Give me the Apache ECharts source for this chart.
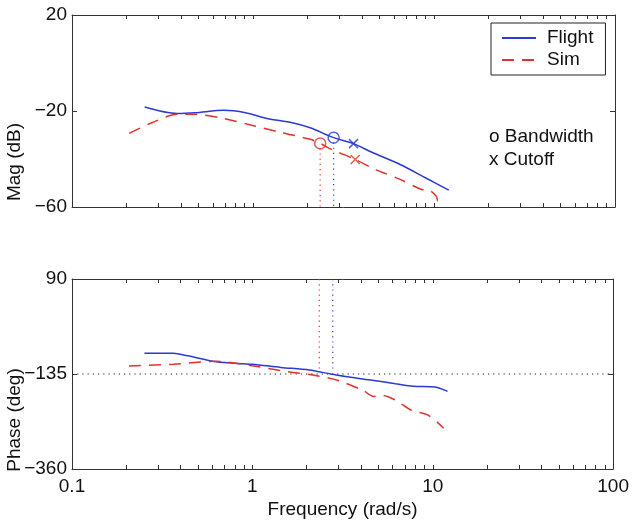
<!DOCTYPE html>
<html>
<head>
<meta charset="utf-8">
<script src="https://cdn.jsdelivr.net/npm/echarts@6/dist/echarts.min.js"></script>
<style>
  html, body { margin: 0; padding: 0; background: #fff; }
  #chart { width: 632px; height: 524px; }
</style>
</head>
<body>
<div id="chart"></div>
<script>
// Frequency response: magnitude (dB) and phase (deg) vs frequency (rad/s)
const freqFlightMag = [0.252, 0.381, 0.479, 0.69, 0.908, 1.195, 1.647, 2.07, 2.79, 3.59, 4.51, 6.5, 8.96, 12.07];
const magFlight     = [-18.3, -21.0, -20.7, -19.7, -20.7, -23.1, -24.9, -27.0, -31.1, -33.6, -37.1, -42.3, -47.8, -53.0];

const freqSimMag = [0.207, 0.276, 0.381, 0.479, 0.659, 0.995, 1.436, 2.07, 2.35, 2.72, 3.67, 4.72, 6.5, 8.56, 9.39, 10.3, 10.5, 10.9];
const magSim     = [-29.3, -24.9, -21.4, -21.4, -22.8, -26.0, -29.0, -31.8, -33.5, -36.0, -40.2, -44.3, -48.5, -52.7, -53.0, -55.5, -57.5, -56.5];

const freqFlightPh = [0.252, 0.364, 0.437, 0.629, 0.995, 1.436, 2.07, 2.72, 3.27, 4.51, 6.21, 7.81, 10.3, 12.07];
const phaseFlight  = [-86, -86, -92, -106, -112, -119.4, -125.7, -135, -141, -149, -158, -164, -166, -176];

const freqSimPh = [0.207, 0.364, 0.629, 0.995, 1.573, 2.27, 2.99, 4.11, 4.72, 5.29, 6.21, 7.63, 9.38, 11.5];
const phaseSim  = [-116, -112, -105, -115.5, -129.5, -139, -150.6, -174, -188, -186, -197, -221, -232, -263.5];

// Bandwidth (o) and cutoff (x) points
const bandwidthFlight = [2.79, -31.1];
const bandwidthSim    = [2.35, -33.5];
const cutoffFlight    = [3.59, -33.6];
const cutoffSim       = [3.67, -40.2];

// Axis ticks
const xTickValues  = [0.1,0.2,0.3,0.4,0.5,0.6,0.7,0.8,0.9,1,2,3,4,5,6,7,8,9,10,20,30,40,50,60,70,80,90,100];
const xLabelValues = [0.1, 1, 10, 100];
const magTicks   = [-60, -20, 20];
const phaseTicks = [-360, -135, 90];
const phaseRef   = -135;

const FONT = '"Liberation Sans", Arial, Helvetica, sans-serif';
const FS = 19;
const BLUE = '#2b3ad4';
const RED  = '#e2322b';
const AXIS = '#333';
const TEXT = '#111';

const zip = (xs, ys) => xs.map((x, i) => [x, ys[i]]);
const fmtNum = v => String(v).replace('-', '\u2212');

function xAxisDef(gridIndex, position, showLabels, name) {
  return {
    type: 'log', logBase: 10, min: 0.1, max: 100, gridIndex, position,
    name: name || '', nameLocation: 'middle', nameGap: 31,
    nameTextStyle: { fontFamily: FONT, fontSize: FS, color: TEXT },
    axisLine: { show: true, onZero: false, lineStyle: { color: AXIS, width: 1 } },
    axisTick: { show: true, inside: true, length: 4, customValues: xTickValues, lineStyle: { color: AXIS } },
    axisLabel: { show: showLabels, customValues: xLabelValues, formatter: v => String(v),
                 fontFamily: FONT, fontSize: FS, color: TEXT, margin: 8 },
    splitLine: { show: false }, minorTick: { show: false }
  };
}
function yAxisDef(gridIndex, position, min, max, ticks, showLabels) {
  return {
    type: 'value', min, max, gridIndex, position,
    axisLine: { show: true, onZero: false, lineStyle: { color: AXIS, width: 1 } },
    axisTick: { show: true, inside: true, length: 5, customValues: ticks, lineStyle: { color: AXIS } },
    axisLabel: { show: showLabels, customValues: ticks, formatter: fmtNum,
                 fontFamily: FONT, fontSize: FS, color: TEXT, margin: 5 },
    splitLine: { show: false }
  };
}

const dotted = (color) => ({ color, width: 1.2, type: [1.2, 4] });
const DASH = [12, 8];

const option = {
  animation: false,
  backgroundColor: '#fff',
  grid: [
    { left: 72, top: 15, width: 543, height: 192 },
    { left: 72, top: 279, width: 543, height: 190 }
  ],
  xAxis: [
    xAxisDef(0, 'bottom', false),
    xAxisDef(0, 'top', false),
    xAxisDef(1, 'bottom', true, 'Frequency (rad/s)'),
    xAxisDef(1, 'top', false)
  ],
  yAxis: [
    yAxisDef(0, 'left', -60, 20, magTicks, true),
    yAxisDef(0, 'right', -60, 20, magTicks, false),
    yAxisDef(1, 'left', -360, 90, phaseTicks, true),
    yAxisDef(1, 'right', -360, 90, phaseTicks, false)
  ],
  legend: {
    data: ['Flight', 'Sim'],
    left: 491, top: 23, orient: 'vertical',
    itemWidth: 34, itemHeight: 12, itemGap: 2,
    padding: [5, 12, 5, 10],
    borderColor: '#222', borderWidth: 1, borderRadius: 0, backgroundColor: '#fff',
    itemStyle: { opacity: 0 },
    textStyle: { fontFamily: FONT, fontSize: FS, color: TEXT, lineHeight: 20, padding: [0, 0, 0, 6] }
  },
  graphic: [
    { type: 'text', left: 489, top: 127, style: { text: 'o Bandwidth', font: FS + 'px ' + FONT, fill: TEXT } },
    { type: 'text', left: 489, top: 150, style: { text: 'x Cutoff', font: FS + 'px ' + FONT, fill: TEXT } },
    { type: 'text', x: 15, y: 162, rotation: Math.PI / 2,
      style: { text: 'Mag (dB)', font: FS + 'px ' + FONT, fill: TEXT, align: 'center', verticalAlign: 'middle' } },
    { type: 'text', x: 15, y: 420, rotation: Math.PI / 2,
      style: { text: 'Phase (deg)', font: FS + 'px ' + FONT, fill: TEXT, align: 'center', verticalAlign: 'middle' } }
  ],
  series: [
    // reference lines
    { type: 'line', xAxisIndex: 0, yAxisIndex: 0, symbol: 'none', silent: true,
      data: [[bandwidthSim[0], bandwidthSim[1] - 2], [bandwidthSim[0], -60]], lineStyle: dotted(RED) },
    { type: 'line', xAxisIndex: 0, yAxisIndex: 0, symbol: 'none', silent: true,
      data: [[bandwidthFlight[0], bandwidthFlight[1] - 2], [bandwidthFlight[0], -60]], lineStyle: dotted(BLUE) },
    { type: 'line', xAxisIndex: 2, yAxisIndex: 2, symbol: 'none', silent: true,
      data: [[bandwidthSim[0], 90], [bandwidthSim[0], -125]], lineStyle: dotted(RED) },
    { type: 'line', xAxisIndex: 2, yAxisIndex: 2, symbol: 'none', silent: true,
      data: [[bandwidthFlight[0], 90], [bandwidthFlight[0], -125]], lineStyle: dotted(BLUE) },
    { type: 'line', xAxisIndex: 2, yAxisIndex: 2, symbol: 'none', silent: true,
      data: [[0.1, phaseRef], [100, phaseRef]], lineStyle: dotted('#222') },

    // magnitude
    { name: 'Flight', type: 'line', xAxisIndex: 0, yAxisIndex: 0, symbol: 'none', smooth: 0.3,
      data: zip(freqFlightMag, magFlight), lineStyle: { color: BLUE, width: 1.5 }, itemStyle: { color: BLUE } },
    { name: 'Sim', type: 'line', xAxisIndex: 0, yAxisIndex: 0, symbol: 'none', smooth: 0.3,
      data: zip(freqSimMag, magSim), lineStyle: { color: RED, width: 1.5, type: DASH }, itemStyle: { color: RED } },

    // phase
    { name: 'Flight', type: 'line', xAxisIndex: 2, yAxisIndex: 2, symbol: 'none', smooth: 0.3,
      data: zip(freqFlightPh, phaseFlight), lineStyle: { color: BLUE, width: 1.5 }, itemStyle: { color: BLUE } },
    { name: 'Sim', type: 'line', xAxisIndex: 2, yAxisIndex: 2, symbol: 'none', smooth: 0.3,
      data: zip(freqSimPh, phaseSim), lineStyle: { color: RED, width: 1.5, type: DASH }, itemStyle: { color: RED } },

    // bandwidth markers
    { type: 'scatter', xAxisIndex: 0, yAxisIndex: 0, symbol: 'circle', symbolSize: 11, silent: true,
      data: [bandwidthFlight], itemStyle: { color: 'rgba(0,0,0,0)', borderColor: BLUE, borderWidth: 1.5 } },
    { type: 'scatter', xAxisIndex: 0, yAxisIndex: 0, symbol: 'circle', symbolSize: 11, silent: true,
      data: [bandwidthSim], itemStyle: { color: 'rgba(0,0,0,0)', borderColor: RED, borderWidth: 1.5 } },
    // cutoff markers
    { type: 'scatter', xAxisIndex: 0, yAxisIndex: 0, symbol: 'path://M0,0L10,10M10,0L0,10', symbolSize: 9, silent: true,
      data: [cutoffFlight], itemStyle: { color: 'none', borderColor: BLUE, borderWidth: 1.5 } },
    { type: 'scatter', xAxisIndex: 0, yAxisIndex: 0, symbol: 'path://M0,0L10,10M10,0L0,10', symbolSize: 9, silent: true,
      data: [cutoffSim], itemStyle: { color: 'none', borderColor: RED, borderWidth: 1.5 } }
  ]
};

const chart = echarts.init(document.getElementById('chart'), null, { renderer: 'canvas' });
chart.setOption(option);
</script>
</body>
</html>
